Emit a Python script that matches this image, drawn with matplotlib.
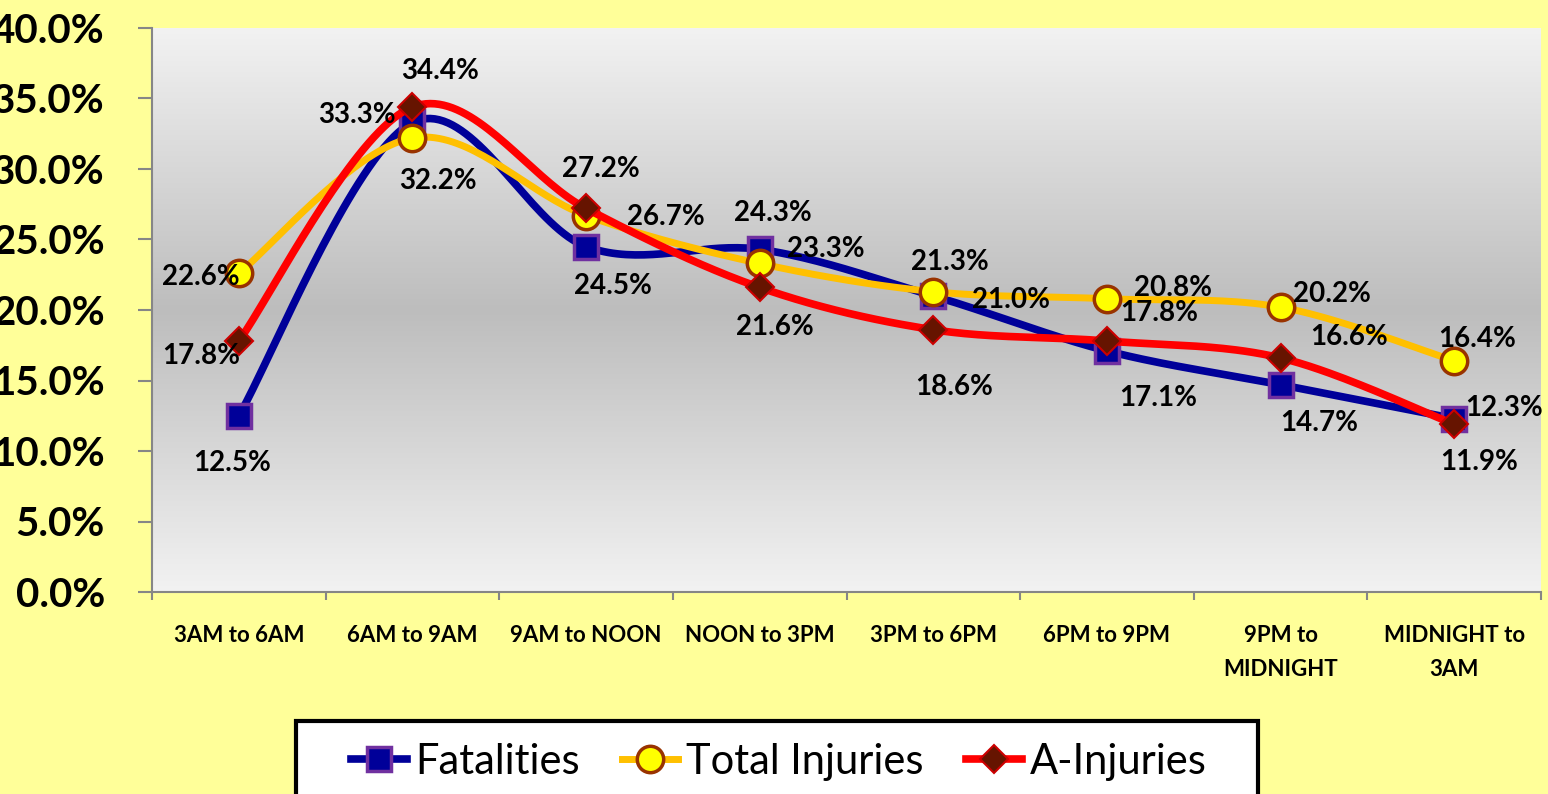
import numpy as np
import matplotlib.pyplot as plt
from matplotlib.colors import LinearSegmentedColormap
from matplotlib.lines import Line2D
from matplotlib.patches import Rectangle

plt.rcParams['font.family'] = ['Lato', 'DejaVu Sans']

categories = ["3AM to 6AM", "6AM to 9AM", "9AM to NOON", "NOON to 3PM",
              "3PM to 6PM", "6PM to 9PM", "9PM to\nMIDNIGHT", "MIDNIGHT to\n3AM"]
fatalities = [12.5, 33.3, 24.5, 24.3, 21.0, 17.1, 14.7, 12.3]
total_injuries = [22.6, 32.2, 26.7, 23.3, 21.3, 20.8, 20.2, 16.4]
a_injuries = [17.8, 34.4, 27.2, 21.6, 18.6, 17.8, 16.6, 11.9]

# label offsets in pixels (dx right, dy down) from the point
fat_off = [(-7, 47), (-55, -7), (27, 39), (13, -36), (78, 4), (51, 47), (39, 38), (50, -11)]
tot_off = [(-38, 4), (26, 43), (80, 1), (66, -14), (17, -30), (66, -11), (51, -13), (23, -22)]
a_off = [(-38, 15), (28, -36), (15, -39), (15, 40), (21, 57), (52, -28), (69, -21), (25, 38)]

W = 'bold'


def smooth(y, n=40):
    # excel-style smoothed line (bezier through points)
    p = np.column_stack([np.arange(len(y)), y]).astype(float)
    p_ext = np.vstack([p[0], p, p[-1]])
    out = []
    t = np.linspace(0, 1, n)[:, None]
    for i in range(len(p) - 1):
        p0, p1, p2, p3 = p_ext[i], p_ext[i + 1], p_ext[i + 2], p_ext[i + 3]
        c1 = p1 + (p2 - p0) / 6
        c2 = p2 - (p3 - p1) / 6
        seg = ((1 - t) ** 3) * p1 + 3 * ((1 - t) ** 2) * t * c1 + 3 * (1 - t) * t ** 2 * c2 + t ** 3 * p2
        out.append(seg)
    out = np.vstack(out)
    return out[:, 0], out[:, 1]


fig = plt.figure(figsize=(15.48, 7.94), dpi=100, facecolor='#FFFF99')
ax = fig.add_axes([152 / 1548, (794 - 592) / 794, (1541 - 152) / 1548, (592 - 28) / 794])
ax.set_facecolor('none')

# plot area gradient
cmap = LinearSegmentedColormap.from_list('bg', [(0, '#F2F2F2'), (0.5, '#BDBDBD'), (1, '#F2F2F2')])
grad = np.linspace(0, 1, 256)[:, None]
ax.imshow(grad, extent=[-0.5, 7.5, 0, 40], aspect='auto', cmap=cmap, zorder=0, origin='upper')

series = [
    (fatalities, fat_off, dict(color='#000099', lw=5.5, marker='s', mfc='#000099', mec='#7030A0', ms=17, mew=2.5)),
    (total_injuries, tot_off, dict(color='#FFC000', lw=5, marker='o', mfc='#FFFF00', mec='#993300', ms=19, mew=2.5)),
    (a_injuries, a_off, dict(color='#FF0000', lw=5.5, marker='D', mfc='#661400', mec='#CC0000', ms=14, mew=1.5)),
]

x = np.arange(len(categories))
handles = []
for z, (vals, offs, st) in enumerate(series):
    sx, sy = smooth(vals)
    ax.plot(sx, sy, color=st['color'], lw=st['lw'], solid_capstyle='round', zorder=2 + z * 2)
    ax.plot(x, vals, ls='none', marker=st['marker'], mfc=st['mfc'], mec=st['mec'],
            ms=st['ms'], mew=st['mew'], zorder=3 + z * 2)
    handles.append(Line2D([], [], color=st['color'], lw=st['lw'], marker=st['marker'], mfc=st['mfc'],
                          mec=st['mec'], ms=st['ms'], mew=st['mew']))

for vals, offs, st in series:
    for i, v in enumerate(vals):
        ax.annotate("%.1f%%" % v, (i, v), xytext=(offs[i][0], -offs[i][1]), textcoords='offset pixels',
                    ha='center', va='center', fontsize=20, fontweight=W, zorder=10)

ax.set_xlim(-0.5, 7.5)
ax.set_ylim(0, 40)
ax.set_yticks(np.arange(0, 41, 5))
ax.set_yticklabels(["%.1f%%" % v for v in np.arange(0, 41, 5)], fontsize=29, fontweight=W)
ax.set_xticks(np.arange(-0.5, 8, 1))
ax.set_xticklabels([])
ax.set_xticks(x, minor=True)
ax.set_xticklabels(categories, minor=True, fontsize=16, fontweight=W, linespacing=1.75)
ax.tick_params(axis='x', which='minor', length=0, pad=24)
ax.tick_params(axis='x', which='major', length=6, width=1.5, color='#868686', direction='out')
ax.tick_params(axis='y', length=10, width=1.5, color='#868686', direction='out', pad=24)

for s in ['top', 'right']:
    ax.spines[s].set_visible(False)
for s in ['left', 'bottom']:
    ax.spines[s].set_color('#868686')
    ax.spines[s].set_linewidth(1.5)

# legend box (runs off the bottom edge like the original)
fig.patches.append(Rectangle((296 / 1548, -0.05), (1258 - 296) / 1548, 0.05 + 73 / 794,
                             transform=fig.transFigure, facecolor='white', edgecolor='black',
                             lw=3, zorder=1))
leg = fig.legend(handles, ["Fatalities", "Total Injuries", "A-Injuries"], loc='center',
                 bbox_to_anchor=(779 / 1548, 32 / 794), ncol=3, fontsize=30, handlelength=1.35,
                 handletextpad=0.2, columnspacing=1.0, borderpad=0.0, frameon=False)
leg.set_zorder(2)

fig.savefig('out.png', dpi=100, facecolor=fig.get_facecolor())
